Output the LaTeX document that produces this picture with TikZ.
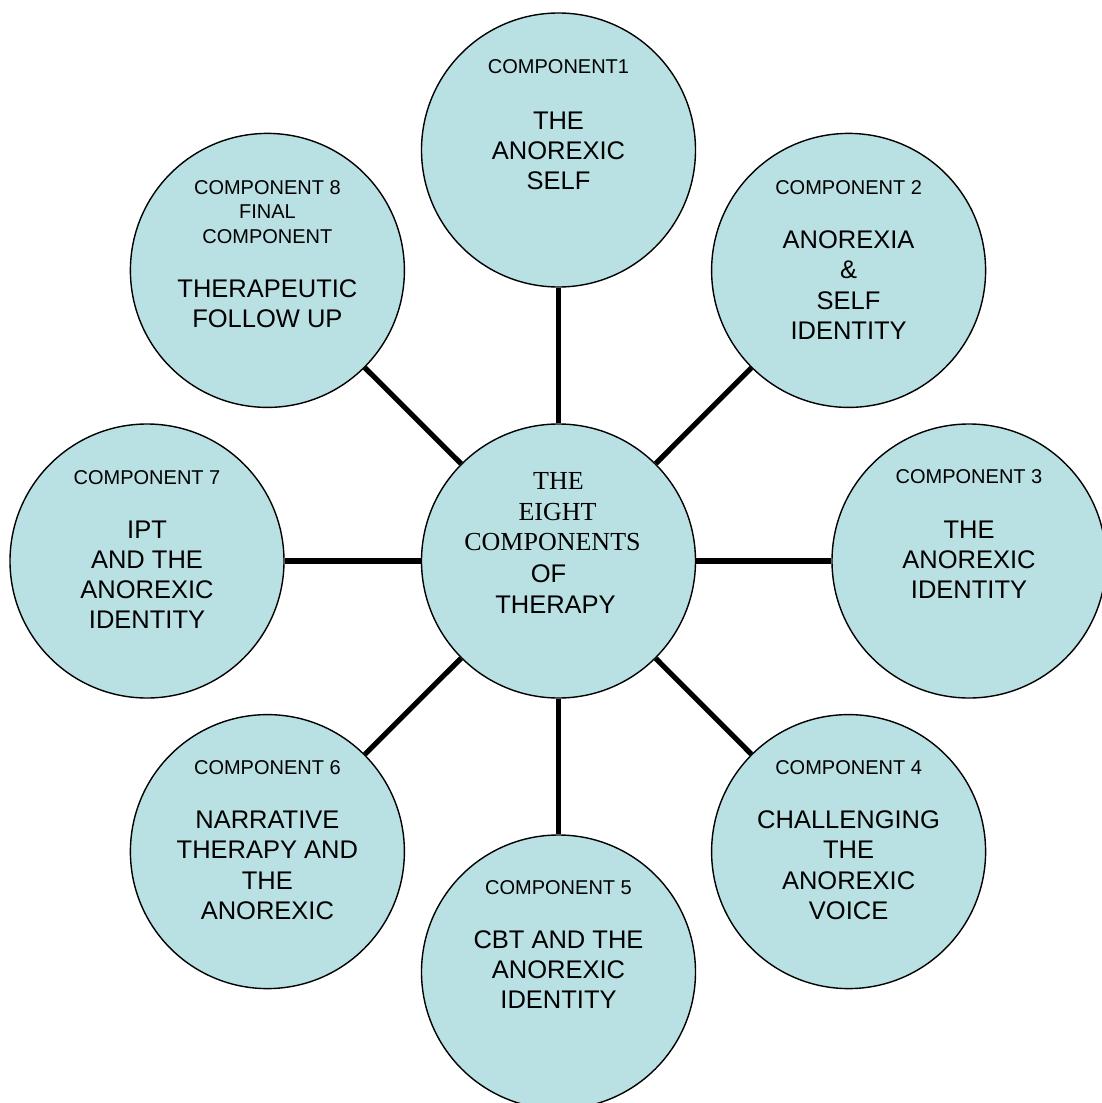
\documentclass[tikz,border=0pt]{standalone}
\usepackage{fontspec}
\setmainfont{Liberation Sans}
\newfontfamily\timesfont{Liberation Serif}
\usetikzlibrary{calc,backgrounds}
\definecolor{circfill}{HTML}{B9E0E3}
\begin{document}
\begin{tikzpicture}[x=1pt,y=-1pt,
  comp/.style={circle,draw=black,line width=1.4pt,fill=circfill,minimum size=274pt,inner sep=0pt},
  link/.style={line width=5.2pt},
  lab/.style={font=\fontsize{20}{24.5}\selectfont,anchor=base,inner sep=0pt},
  big/.style={font=\fontsize{25.5}{30.5}\selectfont,anchor=base,inner sep=0pt},
  ser/.style={font=\timesfont\fontsize{26}{31}\selectfont,anchor=base,inner sep=0pt}]
\useasboundingbox (0,0) rectangle (1102,1103);
\clip (0,0) rectangle (1102,1103);
% circles
\node[comp] (ctr) at (558.5,561) {};
\node[comp] (c1) at (558.5,150) {};
\node[comp] (c2) at (848.6,270.4) {};
\node[comp] (c3) at (969,561) {};
\node[comp] (c4) at (848.6,851.6) {};
\node[comp] (c5) at (558.5,972) {};
\node[comp] (c6) at (267.4,851.6) {};
\node[comp] (c7) at (147,561) {};
\node[comp] (c8) at (267.4,270.4) {};
% connectors
\begin{scope}[on background layer]
\foreach \k in {1,...,8} \draw[link] (ctr) -- (c\k);
\end{scope}
% centre text
\node[ser] (t1) at ($(ctr)+(0,-72)$) {THE};
\node[ser] (t2) at ($(ctr)+(-1,-41)$) {EIGHT};
\node[ser] (t3) at ($(ctr)+(-6,-11)$) {COMPONENTS};
\node[big] (t4) at ($(ctr)+(-10,21)$) {OF};
\node[big] (t5) at ($(ctr)+(-3,52)$) {THERAPY};
% component 1
\node[lab] (l1) at ($(c1)+(0,-77)$) {COMPONENT1};
\foreach \t [count=\i] in {THE,ANOREXIC,SELF}
  \node[big] (m1\i) at ($(c1)+(0,-21+30.3*\i-30.3)$) {\t};
% component 2
\node[lab] (l2) at ($(c2)+(0,-76)$) {COMPONENT 2};
\foreach \t [count=\i] in {ANOREXIA,\&,SELF,IDENTITY}
  \node[big] (m2\i) at ($(c2)+(0,-22+30.3*\i-30.3)$) {\t};
% component 3
\node[lab] (l3) at ($(c3)+(0,-78)$) {COMPONENT 3};
\foreach \t [count=\i] in {THE,ANOREXIC,IDENTITY}
  \node[big] (m3\i) at ($(c3)+(0,-23+30.3*\i-30.3)$) {\t};
% component 4
\node[lab] (l4) at ($(c4)+(0,-77)$) {COMPONENT 4};
\foreach \t [count=\i] in {CHALLENGING,THE,ANOREXIC,VOICE}
  \node[big] (m4\i) at ($(c4)+(0,-23+30.3*\i-30.3)$) {\t};
% component 5
\node[lab] (l5) at ($(c5)+(0,-78)$) {COMPONENT 5};
\foreach \t [count=\i] in {CBT AND THE,ANOREXIC,IDENTITY}
  \node[big] (m5\i) at ($(c5)+(0,-24+30.3*\i-30.3)$) {\t};
% component 6
\node[lab] (l6) at ($(c6)+(0,-77)$) {COMPONENT 6};
\foreach \t [count=\i] in {NARRATIVE,THERAPY AND,THE,ANOREXIC}
  \node[big] (m6\i) at ($(c6)+(0,-23+30.3*\i-30.3)$) {\t};
% component 7
\node[lab] (l7) at ($(c7)+(0,-77)$) {COMPONENT 7};
\foreach \t [count=\i] in {IPT,AND THE,ANOREXIC,IDENTITY}
  \node[big] (m7\i) at ($(c7)+(0,-23+30.3*\i-30.3)$) {\t};
% component 8
\foreach \t [count=\i] in {COMPONENT 8,FINAL,COMPONENT}
  \node[lab] (l8\i) at ($(c8)+(0,-76+24.5*\i-24.5)$) {\t};
\foreach \t [count=\i] in {THERAPEUTIC,FOLLOW UP}
  \node[big] (m8\i) at ($(c8)+(0,27+30.3*\i-30.3)$) {\t};
\end{tikzpicture}
\end{document}
